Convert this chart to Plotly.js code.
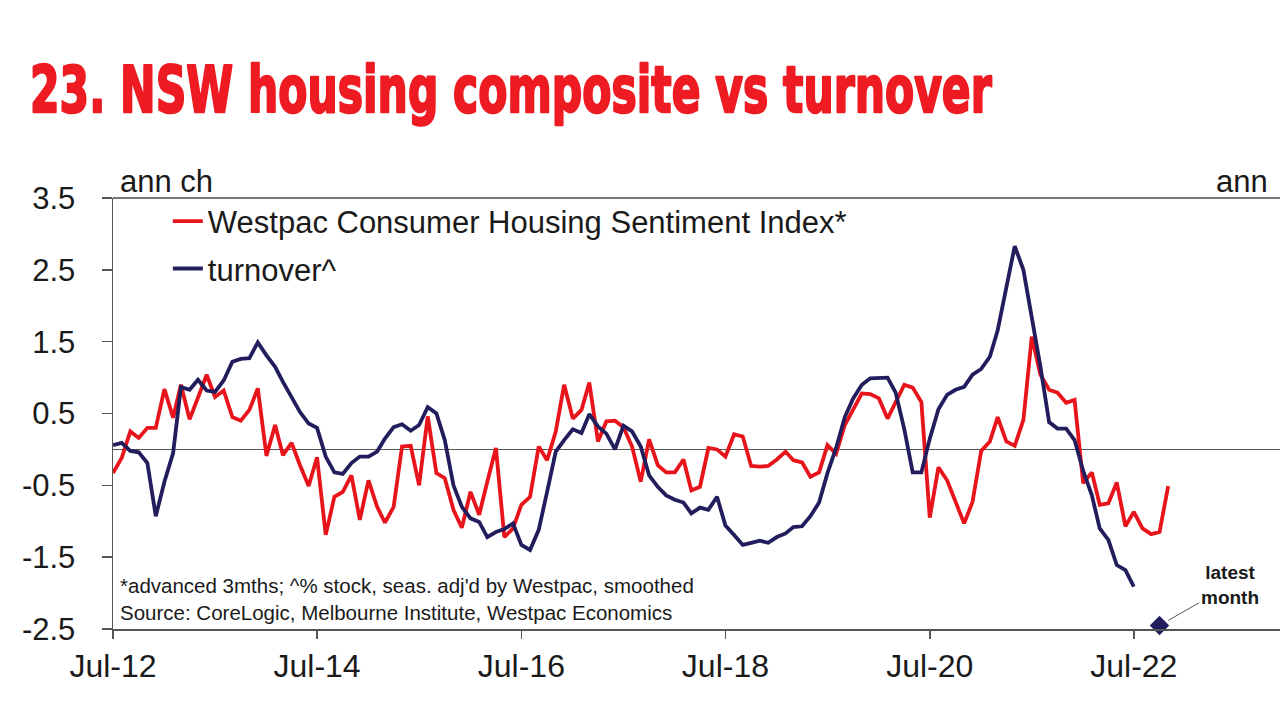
<!DOCTYPE html>
<html>
<head>
<meta charset="utf-8">
<script src="https://cdn.plot.ly/plotly-3.0.1.min.js"></script>
<style>
html,body{margin:0;padding:0;background:#fff;}
#chart{width:1280px;height:720px;}
</style>
</head>
<body>
<div id="chart"></div>
<script>
// Monthly series, first point = Jul-2012
const startYear = 2012;
const startMonth = 7;

const sentiment = [
 -0.33,-0.12,0.25,0.16,0.30,0.30,0.84,0.44,0.90,0.42,0.72,1.04,
 0.73,0.82,0.45,0.40,0.55,0.85,-0.09,0.34,-0.08,0.09,-0.22,-0.51,
 -0.11,-1.19,-0.66,-0.59,-0.36,-0.98,-0.43,-0.80,-1.02,-0.80,0.04,0.05,
 -0.50,0.46,-0.33,-0.40,-0.84,-1.09,-0.59,-0.91,-0.45,0.02,-1.22,-1.10,
 -0.77,-0.66,0.04,-0.15,0.25,0.90,0.43,0.55,0.93,0.11,0.39,0.40,
 0.31,0.04,-0.45,0.14,-0.22,-0.32,-0.32,-0.14,-0.57,-0.52,0.02,0.00,
 -0.10,0.21,0.18,-0.23,-0.24,-0.23,-0.14,-0.03,-0.15,-0.18,-0.38,-0.32,
 0.06,-0.06,0.34,0.55,0.78,0.77,0.71,0.43,0.66,0.90,0.86,0.66,
 -0.95,-0.25,-0.43,-0.73,-1.03,-0.73,-0.02,0.11,0.45,0.11,0.05,0.41,
 1.57,1.04,0.83,0.79,0.65,0.69,-0.47,-0.32,-0.77,-0.75,-0.46,-1.07,
 -0.87,-1.10,-1.18,-1.15,-0.51
];

const turnover = [
 0.06,0.09,-0.02,-0.04,-0.19,-0.93,-0.45,-0.05,0.87,0.83,0.97,0.82,
 0.80,0.96,1.22,1.26,1.27,1.49,1.31,1.15,0.94,0.73,0.52,0.36,
 0.30,-0.10,-0.32,-0.34,-0.19,-0.10,-0.10,-0.03,0.15,0.31,0.35,0.26,
 0.34,0.59,0.50,0.13,-0.50,-0.80,-0.96,-1.01,-1.22,-1.15,-1.11,-1.03,
 -1.33,-1.40,-1.12,-0.59,-0.03,0.13,0.28,0.23,0.49,0.32,0.22,0.00,
 0.33,0.25,0.04,-0.36,-0.52,-0.64,-0.70,-0.74,-0.89,-0.81,-0.84,-0.66,
 -1.06,-1.19,-1.33,-1.30,-1.27,-1.30,-1.22,-1.17,-1.08,-1.07,-0.93,-0.74,
 -0.33,0.02,0.45,0.71,0.90,0.99,0.99,1.00,0.79,0.28,-0.32,-0.32,
 0.15,0.56,0.76,0.83,0.87,1.04,1.12,1.29,1.66,2.29,2.83,2.50,
 1.85,1.15,0.38,0.29,0.29,0.13,-0.30,-0.64,-1.10,-1.26,-1.61,-1.68,
 -1.91
];

const latestMonthDate = ['2022-10-01'];
const latestMonthValue = [-2.45];

const tickVals = ['2012-07-01','2014-07-01','2016-07-01','2018-07-01','2020-07-01','2022-07-01'];
const tickText = ['Jul-12','Jul-14','Jul-16','Jul-18','Jul-20','Jul-22'];

function monthDates(n){
  const out = [];
  for(let i=0;i<n;i++){
    const t = (startMonth-1)+i;
    const y = startYear + Math.floor(t/12);
    const m = (t%12)+1;
    out.push(y + '-' + String(m).padStart(2,'0') + '-01');
  }
  return out;
}

const RED = '#e8141b';
const NAVY = '#221d5c';
const TITLE_RED = '#ee1b22';
const FONT = 'Liberation Sans, Arial, Helvetica, sans-serif';

const traces = [
  {
    x: monthDates(sentiment.length), y: sentiment, type:'scatter', mode:'lines',
    name:'Westpac Consumer Housing Sentiment Index*',
    line:{color:RED, width:3.8}, legendgroup:'a'
  },
  {
    x: monthDates(turnover.length), y: turnover, type:'scatter', mode:'lines',
    name:'turnover^',
    line:{color:NAVY, width:3.8}, legendgroup:'b'
  },
  {
    x: latestMonthDate, y: latestMonthValue, type:'scatter', mode:'markers',
    marker:{symbol:'diamond', size:15, color:NAVY}, showlegend:false, cliponaxis:false
  }
];

const TITLE_LEFT = 30, TITLE_WIDTH = 962;

const layout = {
  width:1280, height:720,
  paper_bgcolor:'#fff', plot_bgcolor:'#fff',
  margin:{l:113, r:0, t:198, b:91},
  font:{family:FONT, color:'#1a1a1a'},
  title:{
    text:'23. NSW housing composite vs turnover',
    font:{family:'DejaVu Sans, sans-serif', size:64, color:TITLE_RED, weight:700, stretch:'condensed'},
    x:TITLE_LEFT/1280, xanchor:'left', xref:'container', y:0.875, yanchor:'middle', yref:'container'
  },
  xaxis:{
    type:'date', range:['2012-07-01','2023-12-06'],
    tickvals:tickVals, ticktext:tickText,
    ticks:'outside', ticklen:8, tickwidth:1.5, tickcolor:'#555',
    tickfont:{size:32, color:'#1a1a1a'},
    showline:true, linecolor:'#555', linewidth:2,
    showgrid:false, zeroline:false
  },
  yaxis:{
    range:[-2.5,3.5], tickvals:[-2.5,-1.5,-0.5,0.5,1.5,2.5,3.5],
    ticktext:['-2.5','-1.5','-0.5','0.5','1.5','2.5','3.5'],
    ticks:'outside', ticklen:10, tickwidth:1.5, tickcolor:'#555',
    ticklabelstandoff:20,
    tickfont:{size:31, color:'#1a1a1a'},
    showline:true, linecolor:'#555', linewidth:1.5,
    showgrid:false, zeroline:true, zerolinecolor:'#555', zerolinewidth:1.2
  },
  legend:{
    x:0.047, xanchor:'left', y:1.008, yanchor:'top',
    bgcolor:'rgba(0,0,0,0)', font:{size:31, color:'#1a1a1a'},
    traceorder:'grouped', tracegroupgap:4
  },
  shapes:[
    {type:'line', xref:'paper', yref:'paper', x0:0, x1:1, y0:1, y1:1, line:{color:'#777', width:2}}
  ],
  annotations:[
    {text:'ann ch', xref:'paper', yref:'paper', x:0.004, y:1.0, xanchor:'left', yanchor:'bottom', yshift:-3,
     showarrow:false, font:{size:31, color:'#1a1a1a'}},
    {text:'ann', xref:'paper', yref:'paper', x:0.9915, y:1.0, xanchor:'right', yanchor:'bottom', yshift:-3,
     showarrow:false, font:{size:31, color:'#1a1a1a'}},
    {text:'*advanced 3mths; ^% stock, seas. adj\'d by Westpac, smoothed<br>Source: CoreLogic, Melbourne Institute, Westpac Economics',
     xref:'paper', yref:'paper', x:0.004, y:0.0, xanchor:'left', yanchor:'bottom', yshift:3, align:'left',
     showarrow:false, font:{size:20.5, color:'#1a1a1a'}},
    {text:'<b>latest<br>month</b>', xref:'x', yref:'y', x:latestMonthDate[0], y:latestMonthValue[0],
     ax:70, ay:-40, showarrow:true, arrowhead:0, arrowwidth:1, arrowcolor:'#555', standoff:10,
     font:{size:19, color:'#1a1a1a'}, align:'center'}
  ]
};

Plotly.newPlot('chart', traces, layout, {staticPlot:true}).then(function(gd){
  // compress the heavy title horizontally to mimic the condensed display face
  const t = gd.querySelector('.gtitle');
  if(t){
    t.style.stroke = TITLE_RED;
    t.style.strokeWidth = '2.5px';
    t.style.strokeLinejoin = 'round';
    const bb = t.getBBox();
    if(bb.width > 0){
      const sx = TITLE_WIDTH / bb.width;
      const x0 = bb.x;
      t.setAttribute('transform', 'translate(' + (TITLE_LEFT) + ',0) scale(' + sx + ',1) translate(' + (-x0) + ',0)');
    }
  }
});
</script>
</body>
</html>
